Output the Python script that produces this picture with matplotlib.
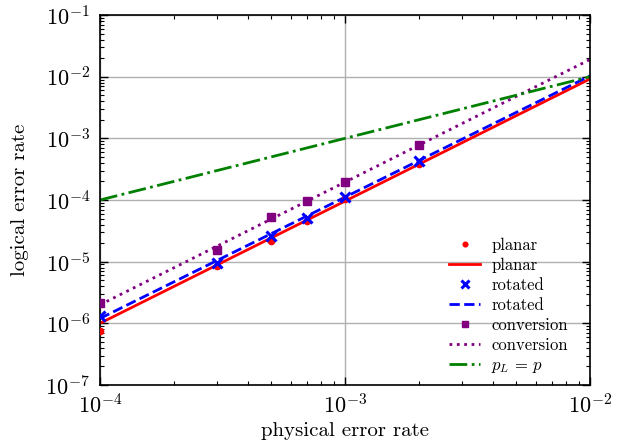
import numpy as np
import matplotlib
matplotlib.use("Agg")
import matplotlib.pyplot as plt

plt.rcParams['font.family'] = 'serif'
plt.rcParams['font.serif'] = ['cmr10', 'DejaVu Serif']
plt.rcParams['mathtext.fontset'] = 'cm'
plt.rcParams['axes.formatter.use_mathtext'] = True

# data points
p_planar = [1e-4, 3e-4, 5e-4, 7e-4, 1e-3, 2e-3]
pl_planar = [7.5e-7, 8.5e-6, 2.2e-5, 4.6e-5, 1.03e-4, 3.8e-4]
p_rot = [1e-4, 3e-4, 5e-4, 7e-4, 1e-3, 2e-3]
pl_rot = [1.3e-6, 9.5e-6, 2.6e-5, 5.2e-5, 1.12e-4, 4.3e-4]
p_conv = [1e-4, 3e-4, 5e-4, 7e-4, 1e-3, 2e-3]
pl_conv = [2.1e-6, 1.55e-5, 5.3e-5, 9.5e-5, 1.96e-4, 7.8e-4]

# fit lines (endpoints)
p_fit = [1e-4, 1e-2]
fit_planar = [1.0e-6, 9.2e-3]
fit_rot = [1.2e-6, 1.03e-2]
fit_conv = [2.0e-6, 1.9e-2]
p_ref = [1e-4, 1e-2]

fig = plt.figure(figsize=(6.25, 4.42), dpi=100)
ax = fig.add_axes([0.16, 0.129, 0.784, 0.837])

ax.plot(p_planar, pl_planar, 'o', color='red', ms=4.5, label='planar', zorder=5)
ax.plot(p_fit, fit_planar, '-', color='red', lw=2, label='planar')
ax.plot(p_rot, pl_rot, 'x', color='blue', ms=7, mew=2.2, label='rotated', zorder=5)
ax.plot(p_fit, fit_rot, '--', color='blue', lw=2, label='rotated')
ax.plot(p_conv, pl_conv, 's', color='purple', ms=6, label='conversion', zorder=5)
ax.plot(p_fit, fit_conv, ':', color='purple', lw=2, label='conversion')
ax.plot(p_ref, p_ref, '-.', color='green', lw=2, label=r'$p_L\,=\,p$')

ax.set_xscale('log')
ax.set_yscale('log')
ax.set_xlim(1e-4, 1e-2)
ax.set_ylim(1e-7, 1e-1)
ax.grid(True, which='major', color='#b0b0b0', lw=1)
ax.tick_params(which='both', direction='in', top=True, right=True, labelsize=16)
ax.tick_params(axis='y', which='major', length=6, width=1, pad=7)
ax.tick_params(axis='x', which='major', length=6, width=1, pad=6)
ax.tick_params(which='minor', length=3, width=0.8)
for s in ax.spines.values():
    s.set_linewidth(1.2)
ax.set_xlabel('physical error rate', fontsize=15, labelpad=3)
ax.set_ylabel('logical error rate', fontsize=15, labelpad=12)

ax.legend(loc='lower right', frameon=False, fontsize=12, handlelength=1.85,
          markerscale=0.75, labelspacing=0.28, borderaxespad=0.2,
          handletextpad=0.65, bbox_to_anchor=(0.975, 0.0))

fig.savefig('out.png', dpi=100)
